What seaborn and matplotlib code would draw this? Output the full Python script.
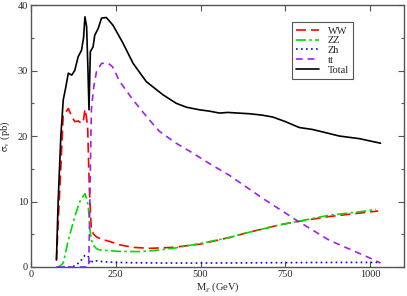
import numpy as np
import pandas as pd
import matplotlib
matplotlib.use("Agg")
import matplotlib.pyplot as plt
import seaborn as sns
from matplotlib.ticker import MultipleLocator

# cross sections vs neutralino mass
ww_m = [75, 85, 95, 102, 110, 120, 129, 140, 149, 155, 159, 163, 167, 172, 178, 185, 193, 210, 232,
        260, 300, 350, 420, 500, 585, 635, 683, 730, 781, 830, 879, 930, 980, 1024]
ww_s = [1.0, 12.0, 23.2, 23.6, 24.2, 23.0, 22.2, 22.3, 21.9, 22.5, 24.1, 23.0, 21.4, 12.0, 5.6, 5.0,
        4.6, 4.2, 3.9, 3.4, 3.0, 2.85, 3.0, 3.5, 4.5, 5.2, 5.8, 6.4, 6.9, 7.3, 7.7, 8.0, 8.3, 8.55]

zz_m = [75, 85, 95, 110, 129, 144, 154, 159, 165, 169, 174, 178, 183, 193, 203, 232, 252, 321, 360,
        419, 500, 585, 635, 683, 730, 781, 830, 879, 930, 980, 1017]
zz_s = [0.0, 0.1, 0.6, 4.1, 7.7, 10.0, 10.8, 11.2, 10.3, 9.2, 5.6, 4.2, 3.4, 2.8, 2.6, 2.5, 2.4, 2.35,
        2.5, 2.85, 3.6, 4.5, 5.2, 5.8, 6.4, 6.9, 7.4, 7.9, 8.2, 8.5, 8.8]

zh_m = [80, 120, 134, 149, 159, 168, 172, 175, 183, 213, 250, 300, 400, 500, 600, 700, 800, 900, 1000, 1030]
zh_s = [0.0, 0.0, 0.3, 1.1, 1.8, 1.7, 1.2, 0.5, 1.0, 0.8, 0.7, 0.65, 0.6, 0.6, 0.62, 0.65, 0.68, 0.7, 0.7, 0.7]

tt_m = [75, 170, 172, 175, 178, 185, 193, 208, 228, 240, 262, 301, 345, 379, 428, 477, 526, 585, 683,
        781, 879, 1007, 1031]
tt_s = [0.0, 0.0, 5.0, 15.0, 24.0, 27.5, 29.8, 31.1, 31.1, 30.6, 28.3, 25.5, 22.7, 20.7, 18.9, 17.4,
        15.8, 14.0, 10.5, 7.2, 4.1, 1.2, 0.6]

tot_m = [75, 80, 88, 95, 102, 110, 120, 129, 139, 149, 155, 159, 164, 168, 171, 175, 183, 188, 198,
         208, 222, 242, 271, 301, 340, 389, 428, 458, 497, 526, 556, 580, 644, 680, 713, 750, 791,
         830, 870, 909, 968, 1031]
tot_s = [1.1, 10.0, 20.0, 25.5, 27.3, 29.6, 29.3, 30.0, 32.1, 33.1, 35.0, 38.2, 36.7, 30.0, 24.0,
         32.9, 33.6, 35.4, 36.4, 38.0, 38.1, 36.9, 34.2, 31.1, 28.3, 26.3, 25.0, 24.4, 24.0, 23.8,
         23.5, 23.6, 23.4, 23.2, 22.9, 22.2, 21.3, 21.0, 20.5, 20.0, 19.6, 18.9]

sns.set_style("ticks")
plt.rcParams['font.family'] = ['Liberation Serif', 'DejaVu Serif']
plt.rcParams['mathtext.fontset'] = 'stix'

fig = plt.figure(figsize=(4.07, 2.96), dpi=100)
ax = fig.add_axes([0.0762, 0.098, 0.9164, 0.885])

series = [
    ("WW", ww_m, ww_s, "#ff0000", (0, (6, 3))),
    ("ZZ", zz_m, zz_s, "#00dd00", (0, (6, 2, 1.5, 2))),
    ("Zh", zh_m, zh_s, "#0000ff", (0, (1, 2))),
    ("tt", tt_m, tt_s, "#a020f0", (0, (4, 3))),
    ("Total", tot_m, tot_s, "#000000", "-"),
]
for name, m, s, col, ls in series:
    sns.lineplot(x=m, y=s, ax=ax, color=col, linestyle=ls, linewidth=1.2,
                 label=name, sort=False, estimator=None)

ax.set_xlim(0, 1100)
ax.set_ylim(0, 40)
ax.xaxis.set_major_locator(MultipleLocator(250))
ax.yaxis.set_major_locator(MultipleLocator(10))
ax.yaxis.set_minor_locator(MultipleLocator(5))
ax.tick_params(direction='in', which='both', top=True, right=True, labelsize=7.5,
               length=4, width=0.8, color='#555555', pad=2)
ax.tick_params(which='minor', length=2)
for sp in ax.spines.values():
    sp.set_color('#555555')
    sp.set_linewidth(1.0)

ax.set_xlabel(r"M$_{\chi}$ (GeV)", fontsize=7.5, labelpad=1)
ax.set_ylabel(r"$\mathrm{\sigma}_{\mathrm{v}}$ (pb)", fontsize=7.5, labelpad=4)

leg = ax.legend(loc='upper left', bbox_to_anchor=(0.70, 0.935), fontsize=7.5,
                frameon=True, fancybox=False, edgecolor='#555555', framealpha=1,
                handlelength=2.2, handletextpad=0.8, labelspacing=0.05,
                borderpad=0.4, borderaxespad=0)
leg.get_frame().set_linewidth(0.8)

fig.savefig("out.png", dpi=100)
